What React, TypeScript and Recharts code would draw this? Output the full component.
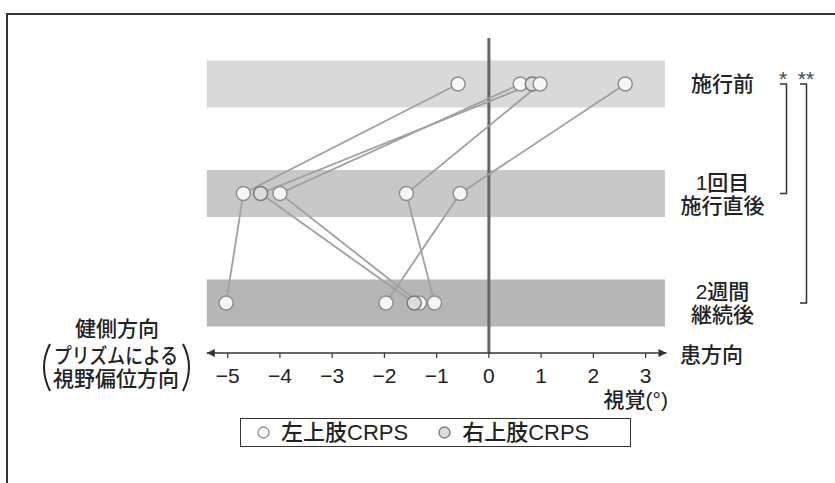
import React from 'react';
import { ScatterChart, Scatter, XAxis, YAxis, ReferenceArea, ReferenceLine } from 'recharts';

// ---- data ----
const rowNames = ['施行前', '1回目\n施行直後', '2週間\n継続後'];
const rowValues = [3, 2, 1];
const xTicks = [-5, -4, -3, -2, -1, 0, 1, 2, 3];
const groups = ['左上肢CRPS', '右上肢CRPS'];
const patientGroup = [0, 0, 1, 0, 0];
const beforeValues = [-0.59, 0.6, 0.83, 0.98, 2.61];
const firstValues = [-4.7, -4.0, -4.37, -1.58, -0.55];
const twoWeekValues = [-5.03, -1.33, -1.43, -1.04, -1.97];
const leftAxisTitle = ['健側方向', 'プリズムによる', '視野偏位方向'];
const rightAxisTitle = '患方向';
const unitLabel = '視覚(°)';
const sigMarks = ['*', '**'];

const patients = beforeValues.map((_, i) => [
  { x: beforeValues[i], y: rowValues[0] },
  { x: firstValues[i], y: rowValues[1] },
  { x: twoWeekValues[i], y: rowValues[2] },
]);

// ---- layout ----
const W = 835;
const H = 483;
const margin = { top: 38, right: 68.5, bottom: 90, left: 206.8 };
const yAxisWidth = 100;
const xAxisHeight = 40;
const xDomain: [number, number] = [-5.4, 3.4];
const yDomain: [number, number] = [0.543, 3.42];
const plotTop = margin.top;
const plotH = H - margin.top - margin.bottom - xAxisHeight;
const yPx = (v: number) => plotTop + ((yDomain[1] - v) / (yDomain[1] - yDomain[0])) * plotH;

const FONT = "'Liberation Sans', 'Noto Sans CJK JP', sans-serif";
const WEIGHT = 500;
const bandColors = ['#d9d9d9', '#c8c8c8', '#b6b6b6'];
const groupStyle = [
  { fill: '#f6f6f6', stroke: '#8f8f8f' },
  { fill: '#dcdcdc', stroke: '#7a7a7a' },
];

const RowTick = (props: any) => {
  const { x, y, payload } = props;
  const idx = rowValues.indexOf(payload.value);
  const lines = (rowNames[idx] || '').split('\n');
  const cx = x + 56;
  const common = { textAnchor: 'middle' as const, dominantBaseline: 'central' as const, fontSize: 21, fill: '#222', fontFamily: FONT, fontWeight: WEIGHT };
  if (lines.length === 1) {
    return (
      <text x={cx} y={y} {...common}>
        {lines[0]}
      </text>
    );
  }
  return (
    <g>
      <text x={cx} y={y - 11} {...common}>
        {lines[0]}
      </text>
      <text x={cx} y={y + 12} {...common}>
        {lines[1]}
      </text>
    </g>
  );
};

const makeDot = (g: number) => (p: any) => (
  <circle cx={p.cx} cy={p.cy} r={7} fill={groupStyle[g].fill} stroke={groupStyle[g].stroke} strokeWidth={1.5} />
);

const Legend = () => (
  <div
    style={{
      position: 'absolute',
      left: 240,
      top: 418,
      width: 373,
      height: 27,
      border: '1.5px solid #333',
      display: 'flex',
      alignItems: 'center',
      paddingLeft: 16,
      boxSizing: 'content-box',
      fontFamily: FONT,
      fontWeight: WEIGHT,
      fontSize: 22,
      color: '#222',
      background: '#fff',
    }}
  >
    {groups.map((g, i) => (
      <div key={g} style={{ display: 'flex', alignItems: 'center', marginLeft: i === 0 ? 0 : 30 }}>
        <svg width={13} height={13} style={{ marginRight: 11 }}>
          <circle cx={6.5} cy={6.5} r={5.5} fill={groupStyle[i].fill} stroke={groupStyle[i].stroke} strokeWidth={1.3} />
        </svg>
        <span style={{ lineHeight: '27px' }}>{g}</span>
      </div>
    ))}
  </div>
);

export default function App() {
  const yTop = yPx(rowValues[0]);
  const yMid = yPx(rowValues[1]);
  const yBot = yPx(rowValues[2]);
  return (
    <div style={{ position: 'absolute', left: 0, top: 0, width: W, height: H, overflow: 'hidden', background: '#fff' }}>
      <div
        style={{
          position: 'absolute',
          left: 6,
          top: 13,
          width: 840,
          height: 480,
          borderTop: '2px solid #333',
          borderLeft: '2px solid #333',
        }}
      />
      <svg width={W} height={H} style={{ position: 'absolute', left: 0, top: 0 }}>
        <defs>
          <marker id="arrR" viewBox="0 0 10 10" refX="10" refY="5" markerWidth="10" markerHeight="8" markerUnits="userSpaceOnUse" orient="auto">
            <path d="M0,0 L10,5 L0,10 z" fill="#333" />
          </marker>
          <marker id="arrL" viewBox="0 0 10 10" refX="0" refY="5" markerWidth="10" markerHeight="8" markerUnits="userSpaceOnUse" orient="auto">
            <path d="M10,0 L0,5 L10,10 z" fill="#333" />
          </marker>
        </defs>
      </svg>
      <div style={{ position: 'absolute', left: 0, top: 0 }}>
        <ScatterChart width={W} height={H} margin={margin}>
          <XAxis
            type="number"
            dataKey="x"
            domain={xDomain}
            ticks={xTicks}
            interval={0}
            height={xAxisHeight}
            allowDataOverflow
            axisLine={{ stroke: '#333', strokeWidth: 1.5, markerStart: 'url(#arrL)', markerEnd: 'url(#arrR)' }}
            tickLine={{ stroke: '#333', strokeWidth: 1.2 }}
            tickSize={5}
            tickMargin={10}
            tick={{ fontSize: 21, fill: '#222', fontFamily: FONT, fontWeight: WEIGHT }}
            tickFormatter={(v: number) => (v < 0 ? `−${Math.abs(v)}` : `${v}`)}
          />
          <YAxis
            type="number"
            dataKey="y"
            orientation="right"
            domain={yDomain}
            ticks={rowValues}
            allowDataOverflow
            width={yAxisWidth}
            axisLine={false}
            tickLine={false}
            tickSize={0}
            tickMargin={0}
            tick={<RowTick />}
          />
          {rowValues.map((v, i) => (
            <ReferenceArea
              key={v}
              x1={-5.4}
              x2={3.37}
              y1={v - 0.215}
              y2={v + 0.215}
              fill={bandColors[i]}
              fillOpacity={1}
              stroke="none"
            />
          ))}
          <ReferenceLine x={0} stroke="#666" strokeWidth={3} />
          {patients.map((d, i) => (
            <Scatter
              key={'l' + i}
              data={d}
              line={{ stroke: '#a0a0a0', strokeWidth: 1.8 }}
              lineType="joint"
              shape={() => <g />}
              isAnimationActive={false}
            />
          ))}
          {patients.map((d, i) => (
            <Scatter key={'p' + i} data={d} shape={makeDot(patientGroup[i])} isAnimationActive={false} />
          ))}
        </ScatterChart>
      </div>
      <svg width={W} height={H} style={{ position: 'absolute', left: 0, top: 0, pointerEvents: 'none' }}>
        <g fontFamily={FONT} fontWeight={WEIGHT} fill="#222">
          <text x={117} y={328} textAnchor="middle" dominantBaseline="central" fontSize={21}>
            {leftAxisTitle[0]}
          </text>
          <text x={116} y={355} textAnchor="middle" dominantBaseline="central" fontSize={21} textLength={124} lengthAdjust="spacingAndGlyphs">
            {leftAxisTitle[1]}
          </text>
          <text x={116} y={378} textAnchor="middle" dominantBaseline="central" fontSize={21}>
            {leftAxisTitle[2]}
          </text>
          <text x={680} y={354} dominantBaseline="central" fontSize={21}>
            {rightAxisTitle}
          </text>
          <text x={668} y={399} textAnchor="end" dominantBaseline="central" fontSize={21}>
            {unitLabel}
          </text>
          <text x={783} y={86} textAnchor="middle" fontSize={21} fill="#444" fontWeight={400}>
            {sigMarks[0]}
          </text>
          <text x={806} y={86} textAnchor="middle" fontSize={21} fill="#444" fontWeight={400}>
            {sigMarks[1]}
          </text>
        </g>
        <path d="M50 344 Q38 367 50 391" fill="none" stroke="#222" strokeWidth={2} />
        <path d="M183 344 Q195 367 183 391" fill="none" stroke="#222" strokeWidth={2} />
        <path d={`M780 ${yTop} H786.5 V${yMid} H780`} fill="none" stroke="#333" strokeWidth={1.5} />
        <path d={`M800 ${yTop} H806.5 V${yBot} H800`} fill="none" stroke="#333" strokeWidth={1.5} />
      </svg>
      <Legend />
    </div>
  );
}
